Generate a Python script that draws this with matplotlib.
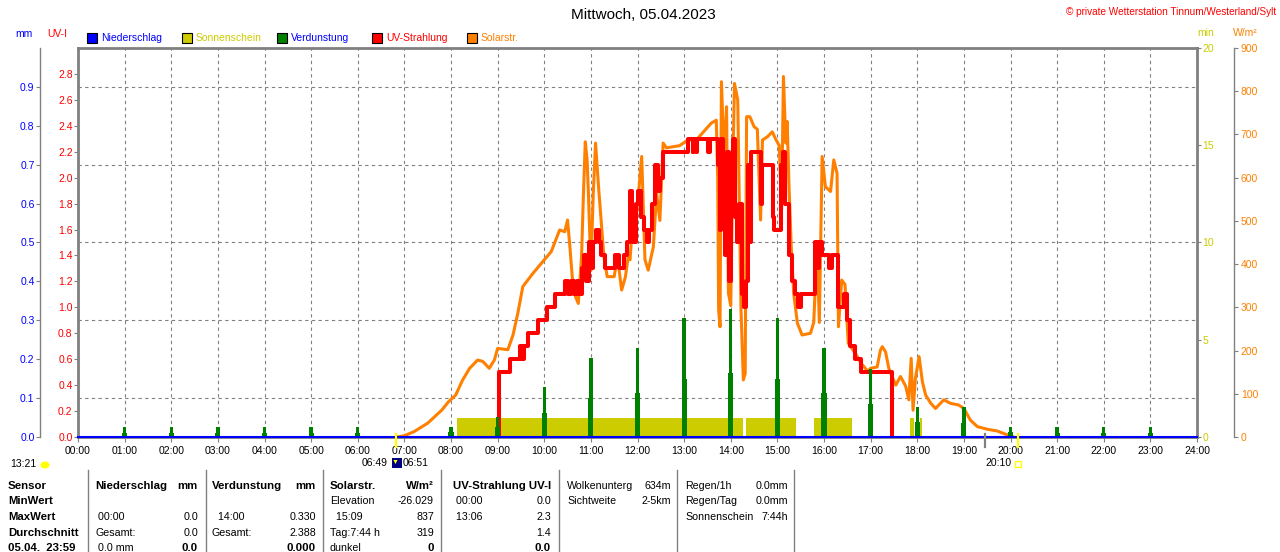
import numpy as np
import matplotlib
matplotlib.use('Agg')
import matplotlib.pyplot as plt
from matplotlib.patches import Rectangle, Ellipse
from matplotlib.lines import Line2D

plt.rcParams['font.family'] = ['Liberation Sans', 'DejaVu Sans']

W, H = 1280, 552

# ---- Daten ----
hours = list(range(25))
hour_labels = ['%02d:00' % h for h in hours]

uv_ticks = [0.0, 0.2, 0.4, 0.6, 0.8, 1.0, 1.2, 1.4, 1.6, 1.8, 2.0, 2.2, 2.4, 2.6, 2.8]
mm_ticks = [0.0, 0.1, 0.2, 0.3, 0.4, 0.5, 0.6, 0.7, 0.8, 0.9]
min_ticks = [0, 5, 10, 15, 20]
w_ticks = [0, 100, 200, 300, 400, 500, 600, 700, 800, 900]

# Solarstrahlung W/m2
solar_t = [6.85, 7.0, 7.2, 7.5, 7.8, 7.95, 8.1, 8.25, 8.4, 8.57, 8.68, 8.82, 8.93, 9.0, 9.22,
           9.33, 9.44, 9.54, 9.76, 9.97, 10.15, 10.33, 10.44, 10.5, 10.55, 10.6, 10.67, 10.73,
           10.8, 10.84, 10.88, 10.92, 10.95, 11.0, 11.05, 11.1, 11.17, 11.28, 11.35, 11.5,
           11.57, 11.66, 11.74, 11.8, 11.84, 11.9, 11.95, 12.02, 12.09, 12.16, 12.23, 12.34,
           12.41, 12.48, 12.55, 12.62, 12.9, 13.08, 13.26, 13.58, 13.69, 13.72, 13.74, 13.77,
           13.8, 13.86, 13.91, 13.95, 14.0, 14.04, 14.08, 14.15, 14.22, 14.27, 14.31, 14.34,
           14.41, 14.5, 14.57, 14.64, 14.68, 14.79, 14.89, 14.96, 15.04, 15.09, 15.13, 15.18,
           15.21, 15.25, 15.3, 15.35, 15.43, 15.53, 15.71, 15.78, 15.85, 15.9, 15.96, 16.03,
           16.14, 16.21, 16.28, 16.31, 16.38, 16.45, 16.52, 16.67, 16.8, 16.94, 17.0, 17.14,
           17.21, 17.25, 17.32, 17.39, 17.46, 17.54, 17.64, 17.75, 17.82, 17.87, 17.91, 17.96,
           18.04, 18.11, 18.18, 18.29, 18.39, 18.57, 18.71, 18.89, 19.0, 19.14, 19.29, 19.5,
           19.71, 19.93, 20.07]
solar_w = [0, 3, 12, 32, 62, 82, 97, 132, 159, 178, 175, 159, 178, 205, 202,
           236, 290, 348, 379, 406, 429, 479, 475, 502, 440, 371, 325, 309,
           417, 560, 683, 640, 556, 385, 560, 680, 571, 417, 371, 371,
           417, 340, 370, 417, 410, 505, 487, 560, 649, 410, 386, 440,
           564, 501, 680, 669, 674, 687, 687, 726, 733, 600, 294, 255,
           822, 641, 764, 333, 304, 600, 818, 780, 294, 132, 147, 741,
           741, 718, 712, 502, 687, 695, 706, 690, 674, 525, 834, 680,
           730, 579, 433, 332, 263, 236, 240, 265, 440, 265, 649, 579,
           568, 641, 610, 255, 363, 353, 217, 194, 170, 152, 159, 162,
           201, 209, 197, 159, 140, 120, 140, 118, 86, 182, 62, 135,
           186, 128, 97, 78, 66, 86, 78, 74, 66, 39, 24, 18,
           14, 5, 0]

# UV-Index (Stufen)
uv_t = [9.0, 9.03, 9.27, 9.48, 9.52, 9.56, 9.66, 9.87, 10.05, 10.23, 10.45, 10.52, 10.58,
        10.64, 10.7, 10.74, 10.8, 10.85, 10.9, 10.95, 11.0, 11.05, 11.1, 11.17, 11.22, 11.3,
        11.52, 11.6, 11.7, 11.78, 11.84, 11.88, 11.91, 11.96, 12.02, 12.07, 12.13, 12.2,
        12.25, 12.32, 12.38, 12.43, 12.48, 12.55, 13.08, 13.18, 13.2, 13.26, 13.28, 13.52,
        13.55, 13.72, 13.76, 13.8, 13.84, 13.88, 13.92, 13.96, 14.0, 14.05, 14.1, 14.14,
        14.18, 14.24, 14.28, 14.32, 14.36, 14.4, 14.44, 14.57, 14.64, 14.68, 14.9, 14.93,
        15.0, 15.07, 15.12, 15.17, 15.25, 15.32, 15.38, 15.44, 15.5, 15.75, 15.8, 15.85,
        15.9, 15.96, 16.1, 16.17, 16.31, 16.42, 16.49, 16.56, 16.67, 16.79, 17.45]
uv_v = [0.0, 0.5, 0.6, 0.7, 0.6, 0.7, 0.8, 0.9, 1.0, 1.1, 1.2, 1.1, 1.2,
        1.1, 1.2, 1.1, 1.3, 1.4, 1.2, 1.5, 1.3, 1.5, 1.6, 1.5, 1.4, 1.3,
        1.4, 1.3, 1.4, 1.5, 1.9, 1.7, 1.5, 1.8, 1.9, 1.7, 1.6, 1.5,
        1.6, 1.8, 2.1, 1.9, 2.0, 2.2, 2.3, 2.2, 2.3, 2.2, 2.3, 2.2,
        2.3, 2.1, 1.6, 2.3, 1.8, 1.4, 2.2, 1.2, 2.0, 2.3, 1.7, 1.5,
        1.8, 1.1, 1.0, 1.2, 2.1, 1.5, 2.2, 2.2, 1.8, 2.1, 1.7, 1.6,
        1.6, 2.1, 2.2, 1.8, 1.4, 1.2, 1.1, 1.0, 1.1, 1.1, 1.5, 1.3,
        1.5, 1.4, 1.3, 1.4, 1.0, 1.1, 0.9, 0.7, 0.6, 0.5, 0.0]

# Sonnenschein (min)
sun_start = [8.12, 14.33, 15.78, 17.84, 18.05]
sun_end = [14.26, 15.41, 16.59, 17.92, 18.11]
sun_min = [1.0, 1.0, 1.0, 1.0, 1.0]

# Verdunstung (mm)
evap_t = [1, 2, 3, 4, 5, 6, 8, 9, 10, 11, 12, 13, 14, 15, 16, 17, 18, 19, 20, 21, 22, 23]
evap_peak = [0.025, 0.025, 0.025, 0.025, 0.025, 0.025, 0.025, 0.052, 0.128, 0.202, 0.228,
             0.305, 0.330, 0.307, 0.228, 0.176, 0.076, 0.078, 0.025, 0.025, 0.025, 0.025]
evap_base = [0.011, 0.011, 0.011, 0.011, 0.011, 0.011, 0.012, 0.025, 0.062, 0.10, 0.114,
             0.15, 0.165, 0.15, 0.114, 0.085, 0.038, 0.036, 0.012, 0.011, 0.011, 0.011]

# Niederschlag (mm)
rain_t = [0, 24]
rain_mm = [0.0, 0.0]

GRAY = '#808080'
BLUE = '#0000ff'
RED = '#ff0000'
YEL = '#cccc00'
GRN = '#008000'
ORA = '#ff8000'
FS = 7.5


def fx(px):
    return px / W


def fy(py):
    return 1 - py / H


def px2pt(p):
    return p * 72 / 100


fig = plt.figure(figsize=(W / 100, H / 100), dpi=100)
fig.patch.set_facecolor('white')

ax = fig.add_axes([fx(78), fy(437), (1197 - 78) / W, (437 - 48) / H])
ax.set_xlim(0, 24)
ax.set_ylim(0, 3.0)
ax.set_xticks(hours)
ax.set_xticklabels(hour_labels)
ax.set_yticks(uv_ticks)
ax.set_yticklabels(['%.1f' % v for v in uv_ticks])
ax.set_yticks(np.arange(1, 10) * 0.3, minor=True)
ax.tick_params(axis='y', which='major', length=px2pt(4), color=GRAY, pad=1,
               labelsize=FS, labelcolor=RED)
ax.tick_params(axis='y', which='minor', length=0)
ax.tick_params(axis='x', length=px2pt(5), color=GRAY, pad=3, labelsize=FS)
ax.grid(axis='x', which='major', color=GRAY, ls=(0, (3, 3)), lw=0.8)
ax.grid(axis='y', which='minor', color=GRAY, ls=(0, (3, 3)), lw=0.8)
for s in ax.spines.values():
    s.set_color(GRAY)
    s.set_linewidth(2)

# Sonnenschein
ax_min = ax.twinx()
for s in ax_min.spines.values():
    s.set_visible(False)
ax_min.set_ylim(0, 20)
ax_min.bar(sun_start, sun_min, width=np.array(sun_end) - np.array(sun_start), align='edge',
           color=YEL, linewidth=0)
ax_min.set_yticks(min_ticks)
ax_min.set_yticklabels([str(v) for v in min_ticks])
ax_min.tick_params(axis='y', length=px2pt(4), color=GRAY, pad=1, labelsize=FS, labelcolor=YEL)

# Solarstrahlung
ax_w = ax.twinx()
for k, s in ax_w.spines.items():
    s.set_visible(k == 'right')
ax_w.spines['right'].set_position(('outward', px2pt(37)))
ax_w.spines['right'].set_color(GRAY)
ax_w.spines['right'].set_linewidth(1)
ax_w.set_ylim(0, 900)
ax_w.plot(solar_t, solar_w, color=ORA, lw=2.2)
ax_w.set_yticks(w_ticks)
ax_w.set_yticklabels([str(v) for v in w_ticks])
ax_w.tick_params(axis='y', length=px2pt(4), color=GRAY, pad=2, labelsize=FS, labelcolor=ORA)

# UV
ax_uv = ax.twinx()
for s in ax_uv.spines.values():
    s.set_visible(False)
ax_uv.set_ylim(0, 3.0)
ax_uv.plot(uv_t, uv_v, color=RED, lw=2.9, drawstyle='steps-post')
ax_uv.set_yticks([])

# Verdunstung + Niederschlag (mm)
ax_mm = ax.twinx()
for k, s in ax_mm.spines.items():
    s.set_visible(k == 'left')
ax_mm.spines['left'].set_position(('outward', px2pt(38)))
ax_mm.spines['left'].set_color(GRAY)
ax_mm.spines['left'].set_linewidth(1)
ax_mm.yaxis.tick_left()
ax_mm.set_ylim(0, 1.0)
ax_mm.bar(evap_t, evap_base, width=0.11, color=GRN, linewidth=0)
ax_mm.bar(evap_t, evap_peak, width=0.07, color=GRN, linewidth=0)
ax_mm.plot(rain_t, rain_mm, color=BLUE, lw=1.5, clip_on=False, zorder=5)
ax_mm.set_yticks(mm_ticks)
ax_mm.set_yticklabels(['%.1f' % v for v in mm_ticks])
ax_mm.tick_params(axis='y', length=px2pt(4), color=GRAY, pad=1, labelsize=FS, labelcolor=BLUE)

# ---- Kopfzeile ----
fig.text(fx(643), fy(15), 'Mittwoch, 05.04.2023', ha='center', va='center', fontsize=11)
fig.text(fx(1276), fy(12), '\u00a9 private Wetterstation Tinnum/Westerland/Sylt', ha='right',
         va='center', fontsize=7.2, color=RED)
fig.text(fx(15), fy(34), 'mm', ha='left', va='center', fontsize=FS, color=BLUE)
fig.text(fx(47), fy(34), 'UV-I', ha='left', va='center', fontsize=FS, color=RED)
fig.text(fx(1197), fy(33), 'min', ha='left', va='center', fontsize=FS, color=YEL)
fig.text(fx(1233), fy(33), 'W/m\u00b2', ha='left', va='center', fontsize=FS, color=ORA)

legend_labels = ['Niederschlag', 'Sonnenschein', 'Verdunstung', 'UV-Strahlung', 'Solarstr.']
legend_fill = [BLUE, YEL, GRN, RED, ORA]
legend_text = [BLUE, YEL, BLUE, RED, ORA]
legend_x = [87, 182, 277, 372, 467]
for lab, fc, tc, x0 in zip(legend_labels, legend_fill, legend_text, legend_x):
    fig.patches.append(Rectangle((fx(x0), fy(43)), 10 / W, 10 / H, transform=fig.transFigure,
                                 facecolor=fc, edgecolor='black', lw=0.8))
    fig.text(fx(x0 + 14), fy(38), lab, ha='left', va='center', fontsize=FS, color=tc)

# ---- Marker unter der Achse ----
for xh, c in [(6.817, '#ffff00'), (19.45, GRAY), (20.167, '#ffff00')]:
    xp = 78 + xh * (1197 - 78) / 24
    fig.add_artist(Line2D([fx(xp), fx(xp)], [fy(434), fy(447)], color=c, lw=1.6))
fig.text(fx(388), fy(463), '06:49', ha='right', va='center', fontsize=FS)
fig.patches.append(Rectangle((fx(392), fy(468)), 10 / W, 10 / H, transform=fig.transFigure,
                             facecolor='#000080', edgecolor='none'))
fig.text(fx(395.5), fy(462), '\u25bc', ha='center', va='center', fontsize=5, color='#ffff00')
fig.text(fx(403), fy(463), '06:51', ha='left', va='center', fontsize=FS)
fig.text(fx(1012), fy(463), '20:10', ha='right', va='center', fontsize=FS)
fig.patches.append(Rectangle((fx(1015), fy(467)), 6 / W, 6 / H, transform=fig.transFigure,
                             facecolor='none', edgecolor='#ffff00', lw=1))
fig.text(fx(10), fy(464), '13:21', ha='left', va='center', fontsize=FS)
fig.patches.append(Ellipse((fx(45), fy(465)), 9 / W, 7 / H, transform=fig.transFigure,
                           facecolor='#ffff00', edgecolor='none'))

# ---- Tabelle ----
for xs in [88, 206, 323, 441, 559, 677, 794]:
    fig.add_artist(Line2D([fx(xs), fx(xs)], [fy(470), fy(552)], color=GRAY, lw=1))

rows_y = [486, 501, 517, 533, 548]
TF = 7.7
BF = 8.2
sensor_col = ['Sensor', 'MinWert', 'MaxWert', 'Durchschnitt', '05.04.  23:59']
for t, y in zip(sensor_col, rows_y):
    fig.text(fx(8), fy(y), t, ha='left', va='center', fontsize=BF, fontweight='bold')

# (x_links, x_rechts, Kopf links, Kopf rechts, [(links, rechts, fett_rechts)])
table_cols = [
    (95, 198, 'Niederschlag', 'mm',
     [('', '', False), (' 00:00', '0.0', False), ('Gesamt:', '0.0', False), (' 0.0 mm', '0.0', True)]),
    (212, 316, 'Verdunstung', 'mm',
     [('', '', False), ('  14:00', '0.330', False), ('Gesamt:', '2.388', False), ('', '0.000', True)]),
    (330, 434, 'Solarstr.', 'W/m\u00b2',
     [('Elevation', '-26.029', False), ('  15:09', '837', False), ('Tag:7:44 h', '319', False),
      ('dunkel', '0', True)]),
    (453, 551, 'UV-Strahlung UV-I', '',
     [(' 00:00', '0.0', False), (' 13:06', '2.3', False), ('', '1.4', False), ('', '0.0', True)]),
]
for xl, xr, hl, hr, body in table_cols:
    fig.text(fx(xl), fy(rows_y[0]), hl, ha='left', va='center', fontsize=BF, fontweight='bold')
    if hr:
        fig.text(fx(xr), fy(rows_y[0]), hr, ha='right', va='center', fontsize=BF, fontweight='bold')
    for (tl, tr, b), y in zip(body, rows_y[1:]):
        if tl:
            fig.text(fx(xl), fy(y), tl, ha='left', va='center', fontsize=TF)
        if tr:
            fig.text(fx(xr), fy(y), tr, ha='right', va='center', fontsize=BF if b else TF,
                     fontweight='bold' if b else 'normal')

info_cols = [
    (567, 671, [('Wolkenunterg', '634m'), ('Sichtweite', '2-5km')]),
    (685, 788, [('Regen/1h', '0.0mm'), ('Regen/Tag', '0.0mm'), ('Sonnenschein', '7:44h')]),
]
for xl, xr, body in info_cols:
    for (tl, tr), y in zip(body, rows_y):
        fig.text(fx(xl), fy(y), tl, ha='left', va='center', fontsize=TF)
        fig.text(fx(xr), fy(y), tr, ha='right', va='center', fontsize=TF)

fig.savefig('out.png', dpi=100)
